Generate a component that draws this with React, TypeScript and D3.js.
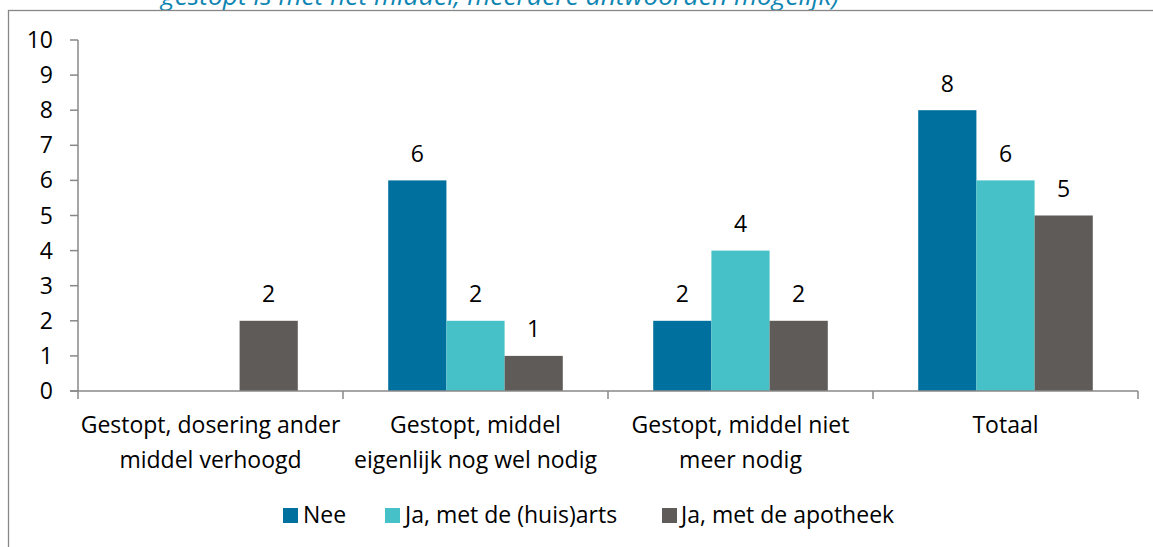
import React from "react";
import * as d3 from "d3";

const categories = [
  "Gestopt, dosering ander middel verhoogd",
  "Gestopt, middel eigenlijk nog wel nodig",
  "Gestopt, middel niet meer nodig",
  "Totaal",
];
const categoryLines = [
  ["Gestopt, dosering ander", "middel verhoogd"],
  ["Gestopt, middel", "eigenlijk nog wel nodig"],
  ["Gestopt, middel niet", "meer nodig"],
  ["Totaal"],
];
const seriesNames = ["Nee", "Ja, met de (huis)arts", "Ja, met de apotheek"];
const neeValues = [0, 6, 2, 8];
const huisartsValues = [0, 2, 4, 6];
const apotheekValues = [2, 1, 2, 5];
const seriesColors = ["#00719f", "#45c1c7", "#5f5b58"];
const yTicks = [0, 1, 2, 3, 4, 5, 6, 7, 8, 9, 10];
const titleText = "gestopt is met het middel; meerdere antwoorden mogelijk)";

const W = 1153;
const H = 547;
const FONT = "'Open Sans', sans-serif";

export default function App() {
  const seriesValues = [neeValues, huisartsValues, apotheekValues];
  const x = d3.scaleBand<string>().domain(categories).range([78, 1138]).paddingInner(0).paddingOuter(0);
  const x1 = d3
    .scaleBand<string>()
    .domain(seriesNames)
    .range([0, x.bandwidth()])
    .paddingInner(0)
    .paddingOuter(0.777);
  const y = d3.scaleLinear().domain([0, 10]).range([391, 40]);
  const axisColor = "#888888";
  const boundaries = [...categories.map((c) => x(c) as number), x.range()[1]];

  const legendItems = [
    { name: seriesNames[0], sq: 283, tx: 303 },
    { name: seriesNames[1], sq: 385, tx: 405 },
    { name: seriesNames[2], sq: 662, tx: 681 },
  ];

  return (
    <svg
      width={W}
      height={H}
      style={{ position: "fixed", left: 0, top: 0, background: "#fff" }}
      fontFamily={FONT}
    >
      <rect x={0} y={0} width={W} height={H} fill="#fff" />
      <text x={161} y={5} fontSize={25} fontStyle="italic" fill="#0f86b2" textLength={678} lengthAdjust="spacingAndGlyphs">
        {titleText}
      </text>
      <rect x={8.5} y={10.5} width={W + 20} height={H + 20} fill="none" stroke="#878787" strokeWidth={1.3} />

      {/* bars */}
      {categories.map((c, ci) =>
        seriesNames.map((s, si) => {
          const v = seriesValues[si][ci];
          const bx = (x(c) as number) + (x1(s) as number);
          return (
            <g key={c + s}>
              {v > 0 && (
                <rect x={bx} y={y(v)} width={x1.bandwidth()} height={y(0) - y(v)} fill={seriesColors[si]} />
              )}
              {v > 0 && (
                <text x={bx + x1.bandwidth() / 2} y={y(v) - 18.5} fontSize={23} textAnchor="middle" fill="#000">
                  {v}
                </text>
              )}
            </g>
          );
        })
      )}

      {/* y axis */}
      <line x1={78} x2={78} y1={y(10)} y2={y(0)} stroke={axisColor} strokeWidth={1.5} />
      {yTicks.map((t) => (
        <g key={t}>
          <line x1={70} x2={78} y1={y(t)} y2={y(t)} stroke={axisColor} strokeWidth={1.5} />
          <text x={53} y={y(t) + 8} fontSize={23} textAnchor="end" fill="#000">
            {t}
          </text>
        </g>
      ))}

      {/* x axis */}
      <line x1={70} x2={1138} y1={y(0)} y2={y(0)} stroke={axisColor} strokeWidth={1.5} />
      {boundaries.map((b, i) => (
        <line key={i} x1={b} x2={b} y1={y(0)} y2={y(0) + 8} stroke={axisColor} strokeWidth={1.5} />
      ))}
      {categories.map((c, ci) =>
        categoryLines[ci].map((ln, li) => (
          <text
            key={c + li}
            x={(x(c) as number) + x.bandwidth() / 2}
            y={433 + li * 35}
            fontSize={23}
            textAnchor="middle"
            fill="#000"
          >
            {ln}
          </text>
        ))
      )}

      {/* legend */}
      {legendItems.map((it, i) => (
        <g key={it.name}>
          <rect x={it.sq} y={508} width={15} height={15} fill={seriesColors[i]} />
          <text x={it.tx} y={523} fontSize={23} fill="#000">
            {it.name}
          </text>
        </g>
      ))}
    </svg>
  );
}
